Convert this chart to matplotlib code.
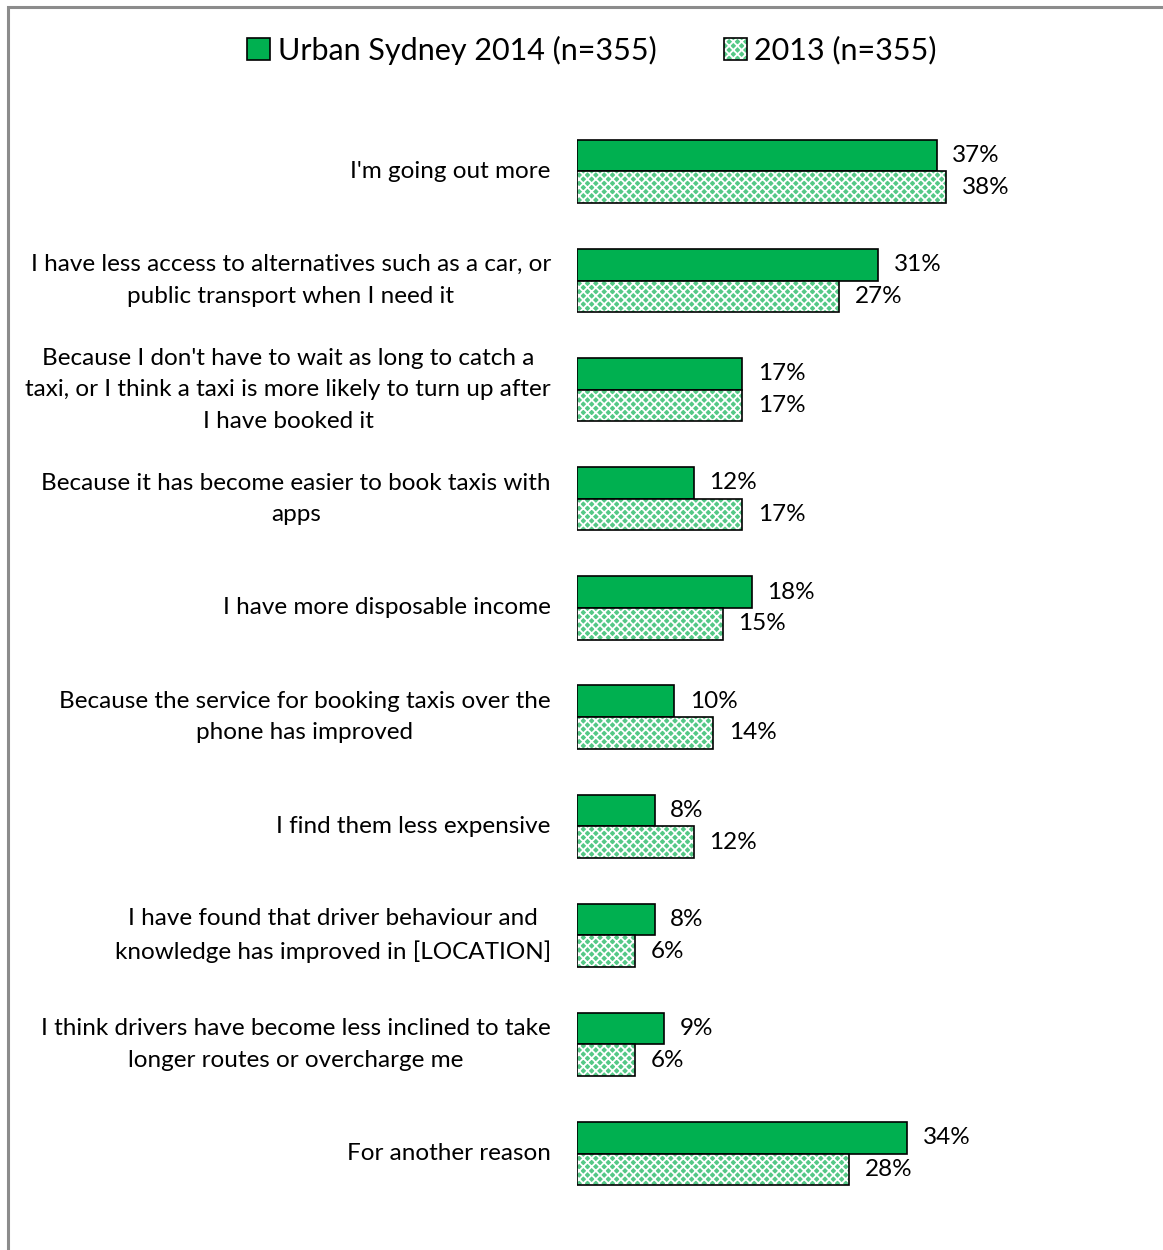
import numpy as np
import matplotlib
matplotlib.use('Agg')
from matplotlib import pyplot as plt
from matplotlib.patches import Patch, Rectangle

plt.rcParams['font.family'] = ['Lato', 'DejaVu Sans']

categories = [
    "I'm going out more",
    "I have less access to alternatives such as a car, or\npublic transport when I need it",
    "Because I don't have to wait as long to catch a\ntaxi, or I think a taxi is more likely to turn up after\nI have booked it",
    "Because it has become easier to book taxis with\napps",
    "I have more disposable income",
    "Because the service for booking taxis over the\nphone has improved",
    "I find them less expensive",
    "I have found that driver behaviour and\nknowledge has improved in [LOCATION]",
    "I think drivers have become less inclined to take\nlonger routes or overcharge me",
    "For another reason",
]
sydney_2014 = [37, 31, 17, 12, 18, 10, 8, 8, 9, 34]
year_2013 = [38, 27, 17, 17, 15, 14, 12, 6, 6, 28]
legend_labels = ['Urban Sydney 2014 (n=355)', '2013 (n=355)']

green = '#00B050'
light_green = '#55C886'

W, H = 1163, 1250
fig = plt.figure(figsize=(W / 100, H / 100), dpi=100)

# axes placed so that 1% = ~9.72px and bar groups are ~109px apart
left_px, right_px = 577, 577 + 60 * 9.72
top_px, bot_px = 116.9, 1208.1
ax = fig.add_axes([left_px / W, 1 - bot_px / H, (right_px - left_px) / W, (bot_px - top_px) / H])

y = np.arange(len(categories))
h = 0.29

plt.rcParams['hatch.linewidth'] = 1.3
ax.barh(y - h / 2, sydney_2014, height=h, color=green, edgecolor='black', linewidth=1.2)
ax.barh(y + h / 2, year_2013, height=h, color=light_green, edgecolor='white', hatch='xxxx', linewidth=0)
ax.barh(y + h / 2, year_2013, height=h, fill=False, edgecolor='black', linewidth=1.2)

for i in range(len(categories)):
    ax.text(sydney_2014[i] + 1.6, y[i] - h / 2, f'{sydney_2014[i]}%', va='center', ha='left', fontsize=17.5)
    ax.text(year_2013[i] + 1.6, y[i] + h / 2, f'{year_2013[i]}%', va='center', ha='left', fontsize=17.5)
    ax.text(-2.7, y[i], categories[i], va='center', ha='right', multialignment='center',
            fontsize=17.5, linespacing=1.62)

ax.set_xlim(0, 60)
ax.set_ylim(len(categories) - 0.5, -0.5)
ax.axis('off')

# hatched legend swatch = white-hatched fill with a black outline on top
hatched = (Patch(facecolor=light_green, edgecolor='white', hatch='xxxx', linewidth=0),
           Patch(fill=False, edgecolor='black', linewidth=1.2))
handles = [Patch(facecolor=green, edgecolor='black', linewidth=1.2), hatched]
fig.legend(handles, legend_labels, loc='center', bbox_to_anchor=(592 / W, 1 - 50 / H),
           ncol=2, frameon=False, fontsize=22, handlelength=0.75, handleheight=0.75,
           handletextpad=0.25, columnspacing=2.2)

# chart area border (gray frame running off the right and bottom edges)
fig.add_artist(Rectangle((8 / W, -0.1), 1.2, 1 - 7 / H + 0.1, transform=fig.transFigure,
                         fill=False, edgecolor='#8C8C8C', linewidth=2.2))

fig.savefig('out.png', dpi=100)
